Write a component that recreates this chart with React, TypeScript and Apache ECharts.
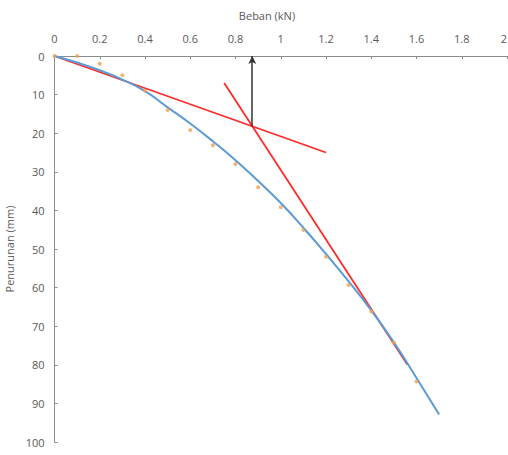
import React, { useEffect, useRef } from "react";
import * as echarts from "echarts";

const loadX = [0, 0.1, 0.2, 0.3, 0.4, 0.5, 0.6, 0.7, 0.8, 0.9, 1.0, 1.1, 1.2, 1.3, 1.4, 1.5, 1.6];
const settleY = [0, 0, 2, 5, 9, 14, 19.2, 23.1, 28, 34, 39.2, 45.1, 52, 59.3, 66.2, 74.2, 84.3];

const fitX = [0, 0.1, 0.2, 0.3, 0.4, 0.5, 0.6, 0.7, 0.8, 0.9, 1.0, 1.1, 1.2, 1.3, 1.4, 1.5, 1.6, 1.7];
const fitY = [0, 1.7, 3.7, 6.1, 9.1, 13.3, 17.5, 22.1, 27, 32.4, 38.1, 44.5, 51.3, 58.4, 65.9, 74.2, 83.4, 92.9];

const tangent1 = [[0, 0], [1.2, 25]];
const tangent2 = [[0.75, 7], [1.56, 80]];
const arrowFrom = [0.874, 18.3];
const arrowTo = [0.874, 0];

const xTitle = "Beban (kN)";
const yTitle = "Penurunan (mm)";

export default function App() {
  const ref = useRef<HTMLDivElement>(null);
  useEffect(() => {
    if (!ref.current) return;
    const chart = echarts.init(ref.current, null, { renderer: "svg" });
    const font = "'Open Sans', 'Liberation Sans', sans-serif";
    const txt = "#595959";
    const axisCol = "#8c8c8c";
    chart.setOption({
      animation: false,
      textStyle: { fontFamily: font },
      title: {
        text: xTitle,
        left: 262,
        top: 5,
        textAlign: "center",
        textStyle: { fontSize: 11, fontWeight: "normal", color: txt, fontFamily: font },
      },
      grid: { left: 54.5, top: 56, right: 1, bottom: 13, containLabel: false, outerBoundsMode: "none" },
      xAxis: {
        type: "value",
        position: "top",
        min: 0,
        max: 2,
        interval: 0.2,
        splitLine: { show: false },
        axisLine: { show: true, lineStyle: { color: axisCol, width: 1 } },
        axisTick: { show: true, inside: true, length: 3, lineStyle: { color: axisCol } },
        axisLabel: { color: txt, fontSize: 11, margin: 12, fontFamily: font, alignMaxLabel: "right" },
      },
      yAxis: {
        type: "value",
        inverse: true,
        min: 0,
        max: 100,
        interval: 10,
        name: yTitle,
        nameLocation: "middle",
        nameGap: 33,
        nameRotate: 90,
        nameTextStyle: { color: txt, fontSize: 11, fontFamily: font },
        splitLine: { show: false },
        axisLine: { show: true, lineStyle: { color: axisCol, width: 1 } },
        axisTick: { show: true, inside: true, length: 3, lineStyle: { color: axisCol } },
        axisLabel: { color: txt, fontSize: 11, margin: 10, fontFamily: font },
      },
      series: [
        {
          type: "line",
          data: tangent1,
          symbol: "none",
          lineStyle: { color: "#ff2b2b", width: 1.8 },
          z: 2,
        },
        {
          type: "line",
          data: tangent2,
          symbol: "none",
          lineStyle: { color: "#ff2b2b", width: 1.8 },
          z: 2,
          markLine: {
            silent: true,
            symbol: ["none", "arrow"],
            symbolSize: [6, 8],
            label: { show: false },
            lineStyle: { color: "#333333", width: 1.5, type: "solid" },
            data: [[{ coord: arrowFrom }, { coord: arrowTo }]],
          },
        },
        {
          type: "line",
          data: fitX.map((x, i) => [x, fitY[i]]),
          symbol: "none",
          smooth: true,
          lineStyle: { color: "#5b9bd5", width: 2 },
          z: 3,
        },
        {
          type: "scatter",
          data: loadX.map((x, i) => [x, settleY[i]]),
          symbol: "circle",
          symbolSize: 4,
          itemStyle: { color: "#f0a050" },
          z: 4,
        },
      ],
    });
    return () => chart.dispose();
  }, []);
  return <div ref={ref} style={{ width: 508, height: 455, position: "absolute", left: 0, top: 0 }} />;
}
